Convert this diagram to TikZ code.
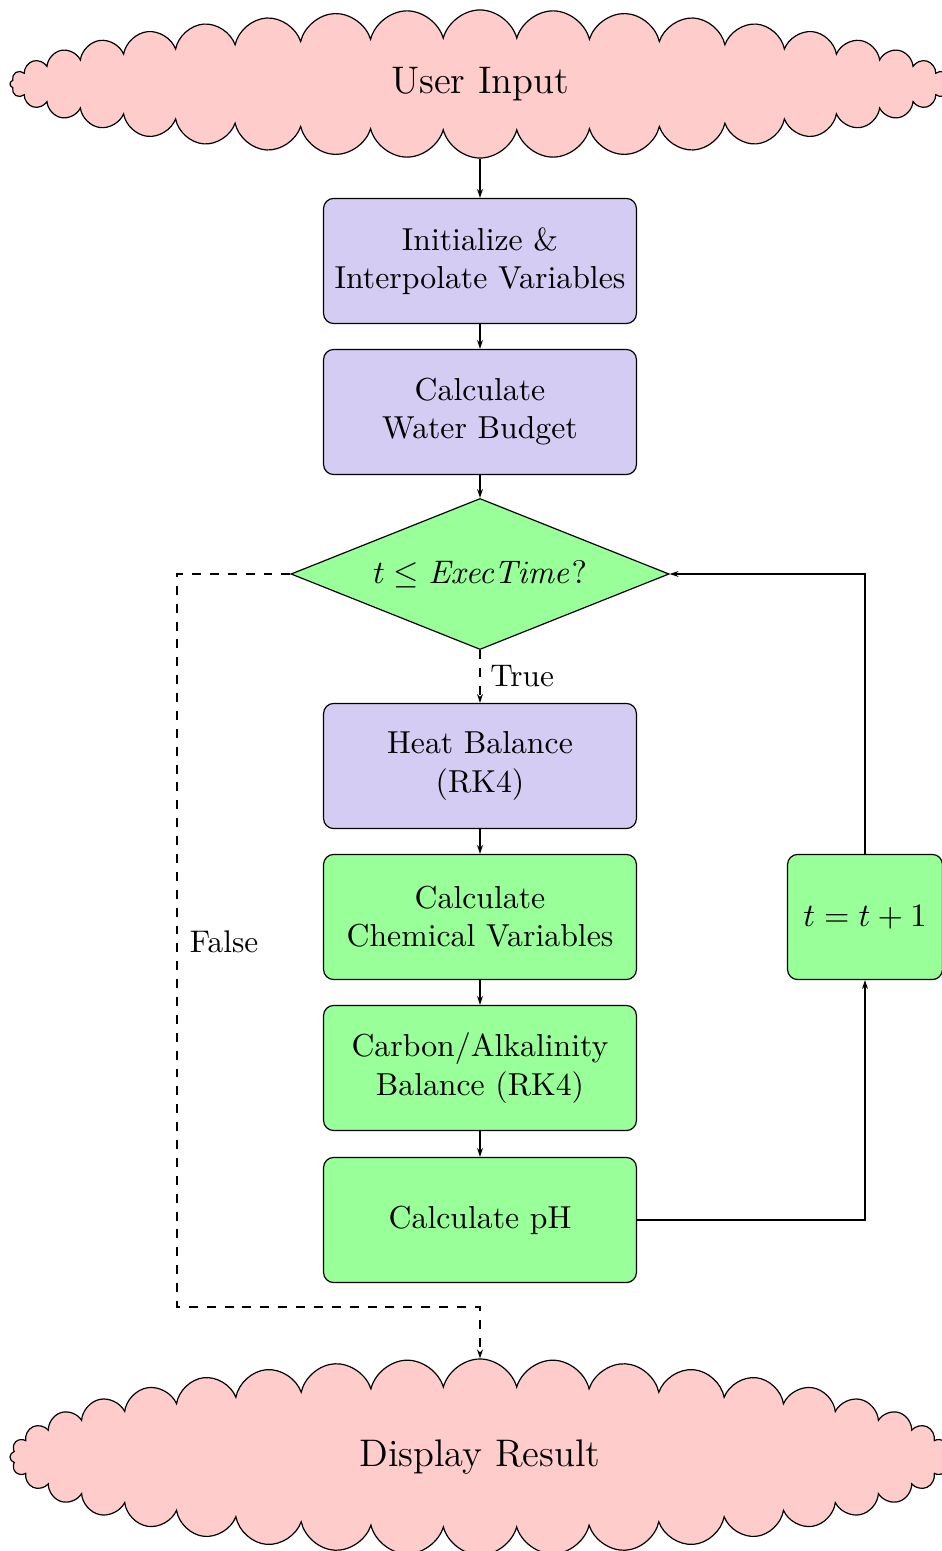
\documentclass[tikz,border=0pt]{standalone}
\usetikzlibrary{shapes.geometric,shapes.symbols,arrows.meta}
\definecolor{cloudpink}{RGB}{255,204,204}
\definecolor{procgreen}{RGB}{153,255,153}
\definecolor{proclav}{RGB}{212,204,242}
\tikzset{
  flowcloud/.style={cloud, cloud puffs=40, cloud ignores aspect, draw, fill=cloudpink,
    inner sep=0pt, minimum width=315.5pt, font=\fontsize{12.9}{15.5}\selectfont},
  procbox/.style={rectangle, rounded corners=3.4pt, draw, align=center,
    minimum width=105pt, minimum height=42pt, inner sep=0pt,
    font=\fontsize{10.66}{12.8}\selectfont},
  lavbox/.style={procbox, fill=proclav},
  grnbox/.style={procbox, fill=procgreen},
  decision/.style={diamond, draw, fill=procgreen, aspect=2.5, inner sep=0pt,
    minimum width=126.9pt, minimum height=50.7pt, font=\fontsize{11}{13}\selectfont},
  arr/.style={-{Stealth[length=3pt,width=2pt]}},
  lbl/.style={font=\fontsize{10.5}{12.6}\selectfont, inner sep=0pt}
}
\begin{document}
\begin{tikzpicture}[x=0.3356pt, y=-0.3356pt]
\useasboundingbox (0,0) rectangle (941,1551);

% start and end clouds
\node[flowcloud, minimum height=49.7pt] (in) at (480,84) {User Input};
\node[flowcloud, minimum height=65.8pt] (out) at (480,1457) {Display Result};

% main column
\node[lavbox] (init) at (480,261) {Initialize \&\\Interpolate Variables};
\node[lavbox] (water) at (480,412) {Calculate\\Water Budget};
\node[decision] (dec) at (480,574) {$t \leq \mathit{ExecTime}?$};
\node[lavbox] (heat) at (480,766) {Heat Balance\\(RK4)};
\node[grnbox] (chem) at (480,917) {Calculate\\Chemical Variables};
\node[grnbox] (carb) at (480,1068) {Carbon/Alkalinity\\Balance (RK4)};
\node[grnbox] (ph) at (480,1220) {Calculate pH};

% time step
\node[grnbox, minimum width=52pt, font=\fontsize{11.1}{13}\selectfont] (inc) at (865,917) {$t = t + 1$};

\coordinate (fcorner) at (177,1307);

\draw[arr] (in.south) -- (init.north);
\draw[arr] (init) -- (water);
\draw[arr] (water) -- (dec);
\draw[arr, dashed] (dec.south) -- node[lbl, right=3.3pt] {True} (heat.north);
\draw[arr] (heat) -- (chem);
\draw[arr] (chem) -- (carb);
\draw[arr] (carb) -- (ph);
\draw[arr] (ph.east) -| (inc.south);
\draw[arr] (inc.north) |- (dec.east);
\draw[arr, dashed] (dec.west) -| (fcorner) -| (out.north);
\node[lbl] (false) at (224,942) {False};
\end{tikzpicture}
\end{document}
